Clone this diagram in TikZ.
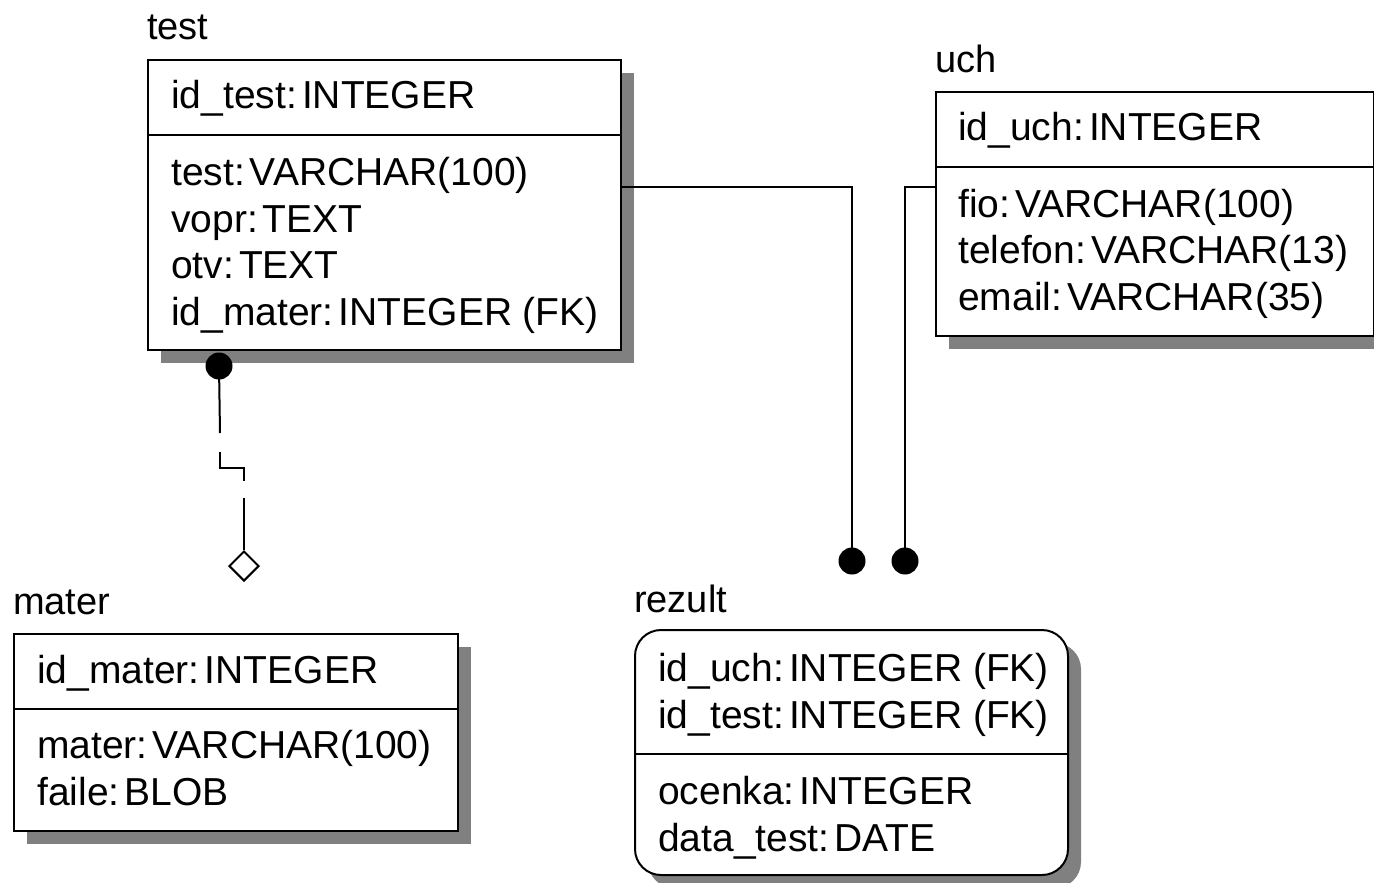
\documentclass[tikz,border=0pt]{standalone}
\usepackage{fontspec}
\setmainfont{Liberation Sans}
\usetikzlibrary{shapes.geometric,shadows}
\newcommand{\cln}{:\hspace{0.13em}}
\tikzset{
  entity/.style={draw, line width=2pt, fill=white, inner sep=0pt, anchor=north west,
    drop shadow={shadow xshift=13pt, shadow yshift=-13pt, fill=black!50, opacity=1}},
  txt/.style={anchor=base west, inner sep=0pt, font=\fontsize{39}{47}\selectfont},
  ttl/.style={anchor=base west, inner sep=0pt, font=\fontsize{38}{47}\selectfont},
  rel/.style={line width=2pt},
  dotend/.style={circle, fill=black, inner sep=0pt, minimum size=27pt},
  hollow/.style={diamond, draw, fill=white, line width=2pt, inner sep=0pt, minimum width=30pt, minimum height=30pt},
  sep/.style={line width=2pt}
}
\begin{document}
\begin{tikzpicture}[x=1pt,y=-1pt]
\useasboundingbox (0,0) rectangle (1374,883);
% entities
\node[entity, minimum width=473pt, minimum height=290pt] (test) at (147,59) {};
\node[entity, minimum width=438pt, minimum height=244pt] (uch) at (935,91) {};
\node[entity, minimum width=444pt, minimum height=197pt] (mater) at (13,633) {};
\node[entity, rounded corners=26pt, minimum width=433pt, minimum height=245pt] (rezult) at (634,629) {};
% separators
\draw[sep] (test.west |- 0,135) -- (test.east |- 0,135);
\draw[sep] (uch.west |- 0,167) -- (uch.east |- 0,167);
\draw[sep] (mater.west |- 0,709) -- (mater.east |- 0,709);
\draw[sep] (rezult.west |- 0,754) -- (rezult.east |- 0,754);
% titles
\node[ttl] (ttest) at (147,40) {test};
\node[ttl] (tuch) at (935,73) {uch};
\node[ttl] (tmater) at (13,614) {mater};
\node[ttl] (trezult) at (634,612) {rezult};
% test attributes
\node[txt] (a1) at (171,108) {id\_test\cln INTEGER};
\node[txt] (a2) at (171,185) {test\cln VARCHAR(100)};
\node[txt] (a3) at (171,232) {vopr\cln TEXT};
\node[txt] (a4) at (171,278) {otv\cln TEXT};
\node[txt] (a5) at (171,325) {id\_mater\cln INTEGER (FK)};
% uch attributes
\node[txt] (b1) at (958,140) {id\_uch\cln INTEGER};
\node[txt] (b2) at (958,217) {fio\cln VARCHAR(100)};
\node[txt] (b3) at (958,263) {telefon\cln VARCHAR(13)};
\node[txt] (b4) at (958,310) {email\cln VARCHAR(35)};
% mater attributes
\node[txt] (c1) at (37,683) {id\_mater\cln INTEGER};
\node[txt] (c2) at (37,758) {mater\cln VARCHAR(100)};
\node[txt] (c3) at (37,805) {faile\cln BLOB};
% rezult attributes
\node[txt] (d1) at (658,681) {id\_uch\cln INTEGER (FK)};
\node[txt] (d2) at (658,728) {id\_test\cln INTEGER (FK)};
\node[txt] (d3) at (658,804) {ocenka\cln INTEGER};
\node[txt] (d4) at (658,851) {data\_test\cln DATE};
% relationship end markers
\node[dotend] (e1) at (852,561) {};
\node[dotend] (e2) at (905,561) {};
\node[dotend] (e3) at (219,366) {};
\node[hollow] (e4) at (244,566) {};
% connectors
\coordinate (k1) at (852,187);
\coordinate (k2) at (905,187);
\draw[rel] (test.east |- k1) -- (k1) -- (e1.center);
\draw[rel] (uch.west |- k2) -- (k2) -- (e2.center);
\coordinate (m1) at (220,433);
\coordinate (m2) at (220,452);
\coordinate (m3) at (220,468);
\coordinate (m4) at (244,468);
\coordinate (m5) at (244,481);
\coordinate (m6) at (244,498);
\draw[rel] (e3.center) -- (m1);
\draw[rel] (m2) -- (m3) -- (m4) -- (m5);
\draw[rel] (m6) -- (e4.north);
\end{tikzpicture}
\end{document}
